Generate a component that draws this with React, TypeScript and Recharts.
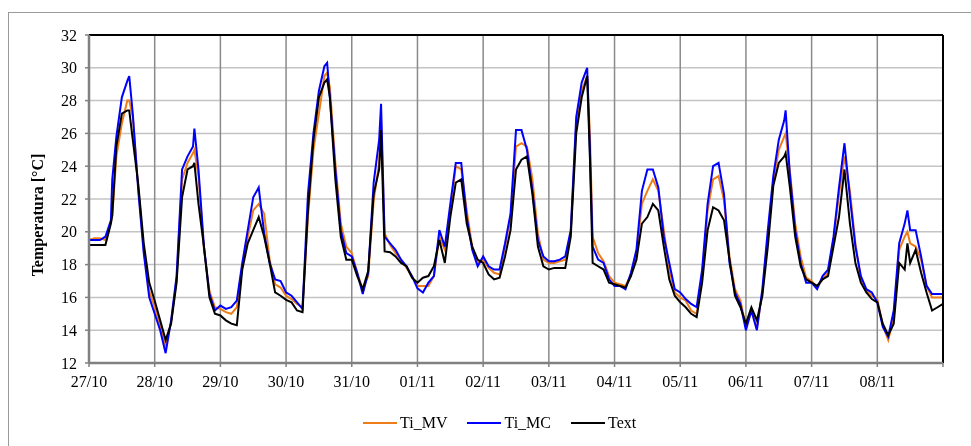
import React from 'react';
import { LineChart, Line, XAxis, YAxis, CartesianGrid, ReferenceLine } from 'recharts';

// Tick labels (one per day, the last gridline at 09/11 has no label)
const dayLabels = ['27/10', '28/10', '29/10', '30/10', '31/10', '01/11', '02/11', '03/11', '04/11', '05/11', '06/11', '07/11', '08/11'];
const xTicks = [0, 24, 48, 72, 96, 120, 144, 168, 192, 216, 240, 264, 288, 312];
const yTicks = [12, 14, 16, 18, 20, 22, 24, 26, 28, 30, 32];

// Hours since 27/10 00:00
const hours = [
  0, 2, 4, 6, 8, 8.5, 10, 12, 14, 14.7, 16, 18, 20, 22,
  24, 26, 28, 30, 32, 34, 36, 38, 38.5, 40, 42, 44, 46,
  48, 50, 52, 54, 56, 58, 60, 62, 64, 66, 68, 70,
  72, 74, 76, 78, 80, 82, 84, 86, 87, 88, 90, 92, 94,
  96, 98, 100, 102, 104, 106, 106.7, 108, 110, 112, 114, 116, 118,
  120, 122, 124, 126, 128, 130, 132, 134, 136, 138, 140, 142,
  144, 146, 148, 150, 152, 154, 156, 158, 160, 162, 164, 166,
  168, 170, 172, 174, 176, 178, 180, 182, 183, 184, 186, 188, 190,
  192, 194, 196, 198, 200, 202, 204, 206, 208, 210, 212, 214,
  216, 218, 220, 222, 224, 226, 228, 230, 232, 234, 236, 238,
  240, 242, 244, 246, 248, 250, 252, 254, 254.5, 256, 258, 260, 262,
  264, 266, 268, 270, 272, 274, 276, 278, 280, 282, 284, 286,
  288, 290, 292, 294, 296, 298, 299, 300, 302, 304, 306, 308, 310, 312,
];

const tiMV = [
  19.5, 19.6, 19.6, 19.5, 20.6, 21.0, 24.6, 26.6, 28.0, 28.0, 27.0, 22.7, 18.9, 16.4,
  15.4, 14.3, 13.0, 14.5, 17.1, 23.2, 24.2, 24.8, 25.0, 23.4, 18.9, 16.4, 15.4,
  15.3, 15.1, 15.0, 15.4, 17.9, 19.7, 21.3, 21.7, 21.1, 18.3, 16.8, 16.6,
  16.1, 15.9, 15.6, 15.4, 20.9, 25.0, 27.2, 29.5, 29.7, 28.8, 24.2, 20.5, 19.1,
  18.7, 17.5, 16.5, 17.3, 21.9, 24.2, 26.8, 19.9, 19.2, 18.7, 18.3, 17.8, 17.3,
  16.7, 16.7, 16.7, 17.3, 19.7, 18.9, 21.3, 24.0, 23.8, 21.3, 19.1, 18.1,
  18.3, 17.8, 17.5, 17.4, 19.1, 20.9, 25.2, 25.4, 25.2, 23.2, 19.9, 18.3,
  18.1, 18.1, 18.2, 18.3, 19.9, 26.6, 28.6, 29.5, 26.0, 19.7, 18.7, 18.2, 17.3,
  16.9, 16.8, 16.7, 17.4, 18.7, 21.7, 22.5, 23.2, 22.5, 20.1, 17.7, 16.3,
  16.0, 15.8, 15.2, 15.0, 17.3, 21.3, 23.2, 23.4, 21.9, 18.5, 16.5, 15.8,
  14.2, 15.2, 14.1, 16.3, 19.7, 23.0, 25.0, 25.8, 26.0, 23.8, 20.5, 18.5, 17.2,
  17.0, 16.6, 17.1, 17.5, 19.5, 22.3, 24.6, 22.5, 19.3, 17.1, 16.4, 16.1,
  15.9, 14.3, 13.4, 14.8, 18.9, 19.7, 20.0, 19.3, 19.1, 18.3, 16.7, 16.0, 16.0, 16.0,
];

const tiMC = [
  19.5, 19.5, 19.5, 19.7, 20.7, 23.2, 25.8, 28.2, 29.2, 29.5, 27.2, 22.5, 18.7, 16.0,
  15.0, 14.0, 12.6, 14.6, 17.3, 23.8, 24.6, 25.2, 26.3, 23.8, 19.1, 16.2, 15.2,
  15.5, 15.3, 15.4, 15.8, 18.1, 20.1, 22.1, 22.7, 19.9, 18.1, 17.1, 17.0,
  16.3, 16.1, 15.7, 15.3, 22.3, 26.0, 28.6, 30.1, 30.3, 28.2, 23.8, 20.1, 18.7,
  18.5, 17.5, 16.2, 17.5, 23.0, 25.6, 27.8, 19.7, 19.3, 18.9, 18.3, 17.9, 17.3,
  16.55, 16.3, 16.9, 17.3, 20.1, 19.1, 21.7, 24.2, 24.2, 20.9, 18.9, 17.9,
  18.5, 17.9, 17.7, 17.7, 19.3, 21.1, 26.2, 26.2, 25.0, 22.5, 19.5, 18.5,
  18.2, 18.2, 18.3, 18.5, 20.1, 27.0, 29.1, 30.0, 25.0, 19.1, 18.3, 18.1, 17.1,
  16.7, 16.7, 16.5, 17.5, 18.9, 22.5, 23.8, 23.8, 22.7, 19.7, 18.1, 16.5,
  16.3, 15.9, 15.6, 15.4, 17.7, 21.7, 24.0, 24.2, 22.3, 18.1, 16.3, 15.6,
  14.0, 15.2, 14.0, 16.5, 20.1, 23.4, 25.6, 26.8, 27.4, 23.6, 20.1, 18.1, 16.9,
  16.9, 16.5, 17.3, 17.7, 19.7, 22.7, 25.4, 22.1, 19.1, 17.3, 16.5, 16.3,
  15.7, 14.2, 13.6, 15.2, 19.3, 20.5, 21.3, 20.1, 20.1, 18.5, 16.7, 16.2, 16.2, 16.2,
];

const tExt = [
  19.2, 19.2, 19.2, 19.2, 20.5, 21.0, 25.2, 27.2, 27.4, 27.4, 25.6, 22.9, 19.3, 16.9,
  15.8, 14.6, 13.4, 14.4, 16.9, 22.1, 23.8, 24.0, 24.2, 21.7, 19.1, 16.0, 15.0,
  14.9, 14.6, 14.4, 14.3, 17.7, 19.3, 20.1, 20.9, 19.7, 18.1, 16.3, 16.1,
  15.85, 15.7, 15.2, 15.1, 21.3, 25.6, 28.2, 29.1, 29.3, 28.2, 23.2, 19.7, 18.3,
  18.3, 17.3, 16.5, 17.6, 22.3, 23.8, 26.2, 18.8, 18.75, 18.5, 18.1, 17.9, 17.2,
  16.9, 17.2, 17.3, 17.9, 19.5, 18.1, 20.9, 23.0, 23.2, 20.5, 19.1, 18.3,
  18.1, 17.4, 17.1, 17.2, 18.5, 20.1, 23.8, 24.4, 24.6, 22.3, 19.1, 17.9,
  17.7, 17.8, 17.8, 17.8, 19.7, 26.0, 28.2, 29.5, 24.5, 18.1, 17.9, 17.7, 16.9,
  16.8, 16.7, 16.6, 17.3, 18.3, 20.5, 20.9, 21.7, 21.3, 19.1, 17.1, 16.1,
  15.7, 15.4, 15.0, 14.8, 16.9, 20.1, 21.5, 21.3, 20.7, 18.3, 16.1, 15.4,
  14.4, 15.4, 14.6, 16.1, 19.1, 22.8, 24.2, 24.6, 24.8, 22.8, 19.7, 17.9, 17.1,
  16.9, 16.7, 17.1, 17.3, 19.1, 20.9, 23.8, 20.5, 18.1, 16.9, 16.3, 15.9,
  15.7, 14.4, 13.7, 14.4, 18.1, 17.7, 19.3, 18.1, 18.9, 17.5, 16.3, 15.2, 15.4, 15.6,
];

const seriesNames = ['Ti_MV', 'Ti_MC', 'Text'];
const seriesColors = ['#ef7d17', '#0000ff', '#000000'];

const data = hours.map((h, i) => ({ h, mv: tiMV[i], mc: tiMC[i], tx: tExt[i] }));

const FONT = '"Liberation Serif", "Times New Roman", serif';

const YLabel = () => (
  <text
    x={37}
    y={215}
    transform="rotate(-90 37 215)"
    textAnchor="middle"
    dominantBaseline="central"
    fontFamily={FONT}
    fontSize={16}
    fontWeight="bold"
    fill="#000"
  >
    Temperatura [°C]
  </text>
);

export default function App() {
  return (
    <div>
      <div
        style={{
          position: 'fixed',
          left: 8,
          top: 12,
          width: 1200,
          height: 1200,
          borderLeft: '1px solid #9a9a9a',
          borderTop: '1px solid #9a9a9a',
          boxSizing: 'border-box',
        }}
      />
      <div style={{ position: 'fixed', left: 0, top: 0, width: 971, height: 446 }}>
        <LineChart
          width={971}
          height={446}
          data={data}
          margin={{ top: 35, right: 28, left: 0, bottom: 53 }}
        >
          <CartesianGrid horizontal={true} vertical={false} stroke="#c4c4c4" strokeWidth={1.5} />
          <CartesianGrid horizontal={false} vertical={true} stroke="#8a8a8a" strokeWidth={1.5} />
          <XAxis
            dataKey="h"
            type="number"
            domain={[0, 312]}
            ticks={xTicks}
            interval={0}
            height={30}
            tickFormatter={(v: number) => dayLabels[Math.round(v / 24)] ?? ''}
            tick={{ fill: '#000', fontSize: 16, fontFamily: FONT }}
            tickSize={4}
            tickMargin={9}
            tickLine={{ stroke: '#808080', strokeWidth: 1.5 }}
            axisLine={{ stroke: '#808080', strokeWidth: 2.5 }}
          />
          <YAxis
            type="number"
            domain={[12, 32]}
            ticks={yTicks}
            interval={0}
            width={89}
            tick={{ fill: '#000', fontSize: 16, fontFamily: FONT }}
            tickSize={4}
            tickMargin={8}
            tickLine={{ stroke: '#808080', strokeWidth: 1.5 }}
            axisLine={{ stroke: '#808080', strokeWidth: 2.5 }}
            label={YLabel}
          />
          <Line type="linear" dataKey="mv" name={seriesNames[0]} stroke={seriesColors[0]} strokeWidth={2} dot={false} isAnimationActive={false} />
          <Line type="linear" dataKey="mc" name={seriesNames[1]} stroke={seriesColors[1]} strokeWidth={2} dot={false} isAnimationActive={false} />
          <Line type="linear" dataKey="tx" name={seriesNames[2]} stroke={seriesColors[2]} strokeWidth={2} dot={false} isAnimationActive={false} />
          <ReferenceLine y={32} stroke="#000" strokeWidth={2} />
          <ReferenceLine x={312} stroke="#000" strokeWidth={2} />
        </LineChart>
      </div>
      <div
        style={{
          position: 'fixed',
          left: 363,
          top: 413,
          display: 'flex',
          alignItems: 'center',
          fontFamily: FONT,
          fontSize: 16,
          lineHeight: '20px',
          color: '#000',
        }}
      >
        {seriesNames.map((name, i) => (
          <div key={name} style={{ display: 'flex', alignItems: 'center', marginRight: 20 }}>
            <svg width={34} height={4} style={{ display: 'block' }}>
              <line x1={0} y1={2} x2={34} y2={2} stroke={seriesColors[i]} strokeWidth={2} />
            </svg>
            <span style={{ marginLeft: 3 }}>{name}</span>
          </div>
        ))}
      </div>
    </div>
  );
}
